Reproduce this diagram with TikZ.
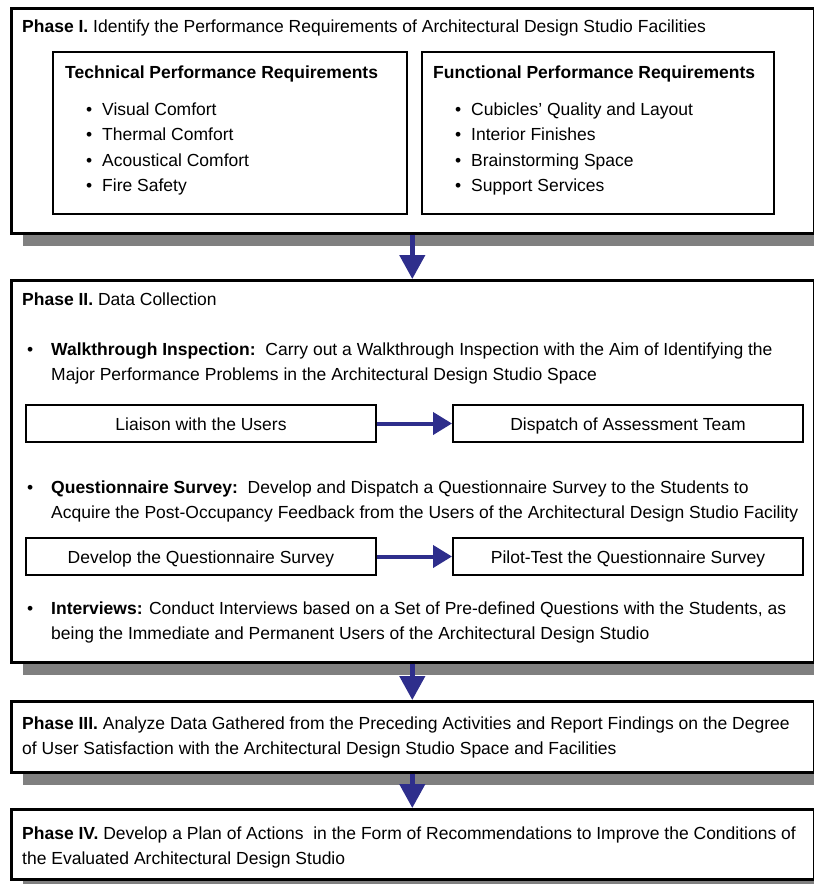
\documentclass[tikz,border=0pt]{standalone}
\usepackage{fontspec}
\setmainfont{Liberation Sans}
\usetikzlibrary{arrows.meta,shadows}
\definecolor{arrowblue}{RGB}{46,46,140}
\definecolor{shadowgray}{RGB}{128,128,128}
\begin{document}
\begin{tikzpicture}[x=1pt,y=-1pt,
  txt/.style={inner sep=0pt,anchor=base west,font=\fontsize{17.5}{25.5}\selectfont},
  ctxt/.style={inner sep=0pt,anchor=base,font=\fontsize{17.5}{25.5}\selectfont},
  phasebox/.style={draw=black,line width=2.6pt,fill=white,anchor=north west,inner sep=0pt,
    drop shadow={shadow xshift=12pt,shadow yshift=-13pt,fill=shadowgray,opacity=1}},
  reqbox/.style={draw=black,line width=2pt,fill=white,anchor=north west,inner sep=0pt,
    minimum height=162pt},
  stepbox/.style={draw=black,line width=2pt,fill=white,anchor=north west,inner sep=0pt,
    minimum width=350pt,minimum height=37pt},
  vflow/.style={arrowblue,line width=4.5pt,-{Triangle[width=25pt,length=24pt]}},
  hflow/.style={arrowblue,line width=4pt,-{Triangle[width=22pt,length=19pt]}},
]
\useasboundingbox (0,0) rectangle (814,884);
\newcommand{\bul}{\makebox[16pt][l]{\textbullet}}
\newcommand{\pbul}{\makebox[24pt][l]{\textbullet}}

% Phase I
\node[phasebox,minimum width=803pt,minimum height=225pt] (p1) at (10,7) {};
\node[txt] (t1) at (22,32) {\textbf{Phase I.} Identify the Performance Requirements of Architectural Design Studio Facilities};
\node[reqbox,minimum width=354pt] (tech) at (52,51) {};
\node[reqbox,minimum width=352pt] (func) at (421,51) {};
\node[txt] (techt) at (65,78) {\textbf{Technical Performance Requirements}};
\node[txt] (techl) at (86,115) {\begin{tabular}[t]{@{}l@{}}\bul Visual Comfort\\ \bul Thermal Comfort\\ \bul Acoustical Comfort\\ \bul Fire Safety\end{tabular}};
\node[txt] (funct) at (433,78) {\textbf{Functional Performance Requirements}};
\node[txt] (funcl) at (455,115) {\begin{tabular}[t]{@{}l@{}}\bul Cubicles' Quality and Layout\\ \bul Interior Finishes\\ \bul Brainstorming Space\\ \bul Support Services\end{tabular}};

% Phase II
\node[phasebox,minimum width=803pt,minimum height=382pt] (p2) at (10,279) {};
\node[txt] (t2) at (22,305) {\textbf{Phase II.} Data Collection};
\node[txt] (walk) at (27,355) {\begin{tabular}[t]{@{}l@{}}\pbul\textbf{Walkthrough Inspection:}\ \ Carry out a Walkthrough Inspection with the Aim of Identifying the\\ \hspace*{24pt}Major Performance Problems in the Architectural Design Studio Space\end{tabular}};
\node[stepbox] (liaison) at (25,404) {};
\node[ctxt] at ([yshift=-7pt]liaison.center) (liaisont) {Liaison with the Users};
\node[stepbox] (dispatch) at (452,404) {};
\node[ctxt] at ([yshift=-7pt]dispatch.center) (dispatcht) {Dispatch of Assessment Team};
\node[txt] (quest) at (27,493) {\begin{tabular}[t]{@{}l@{}}\pbul\textbf{Questionnaire Survey:}\ \ Develop and Dispatch a Questionnaire Survey to the Students to\\ \hspace*{24pt}Acquire the Post-Occupancy Feedback from the Users of the Architectural Design Studio Facility\end{tabular}};
\node[stepbox] (develop) at (25,537) {};
\node[ctxt] at ([yshift=-7pt]develop.center) (developt) {Develop the Questionnaire Survey};
\node[stepbox] (pilot) at (452,537) {};
\node[ctxt] at ([yshift=-7pt]pilot.center) (pilott) {Pilot-Test the Questionnaire Survey};
\node[txt] (inter) at (27,614) {\begin{tabular}[t]{@{}l@{}}\pbul\textbf{Interviews:} Conduct Interviews based on a Set of Pre-defined Questions with the Students, as\\ \hspace*{24pt}being the Immediate and Permanent Users of the Architectural Design Studio\end{tabular}};

% Phase III
\node[phasebox,minimum width=803pt,minimum height=71pt] (p3) at (10,700) {};
\node[txt] (t3) at (22,729) {\begin{tabular}[t]{@{}l@{}}\textbf{Phase III.} Analyze Data Gathered from the Preceding Activities and Report Findings on the Degree\\ of User Satisfaction with the Architectural Design Studio Space and Facilities\end{tabular}};

% Phase IV
\node[phasebox,minimum width=803pt,minimum height=70pt] (p4) at (10,808) {};
\node[txt] (t4) at (22,839) {\begin{tabular}[t]{@{}l@{}}\textbf{Phase IV.} Develop a Plan of Actions\ \ in the Form of Recommendations to Improve the Conditions of\\ the Evaluated Architectural Design Studio\end{tabular}};

% connectors
\draw[vflow] ([xshift=-0.5pt]p1.south) -- ([xshift=-0.5pt]p2.north);
\draw[vflow] ([xshift=-0.5pt]p2.south) -- ([xshift=-0.5pt]p3.north);
\draw[vflow] ([xshift=-0.5pt]p3.south) -- ([xshift=-0.5pt]p4.north);
\draw[hflow] (liaison.east) -- (dispatch.west);
\draw[hflow] (develop.east) -- (pilot.west);
\end{tikzpicture}
\end{document}
